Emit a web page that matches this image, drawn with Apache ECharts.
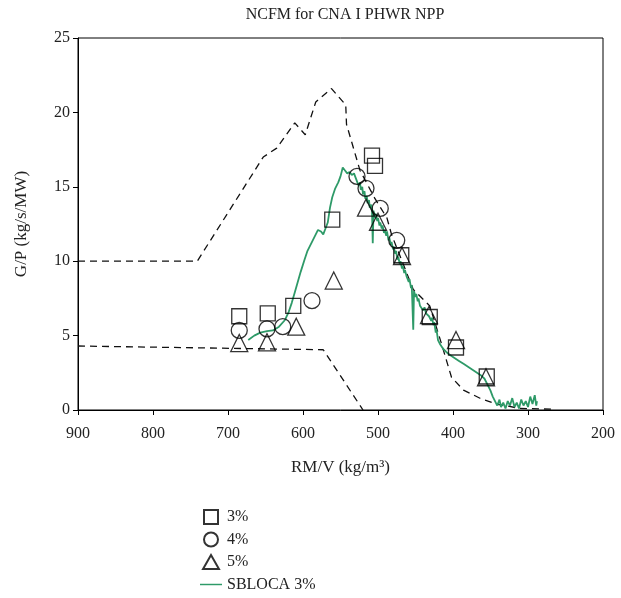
<!DOCTYPE html>
<html>
<head>
<meta charset="utf-8">
<script src="https://cdn.jsdelivr.net/npm/echarts@6/dist/echarts.min.js"></script>
<style>
  html, body { margin: 0; padding: 0; background: #fff; }
  #main { width: 621px; height: 598px; }
</style>
</head>
<body>
<div id="main"></div>
<script>
// experimental points (RM/V, G/P)
var pts3 = [[685, 6.3], [647, 6.5], [613, 7.0], [561, 12.8], [508, 17.1], [504, 16.4],
            [469, 10.4], [431, 6.25], [396, 4.2], [355, 2.25]];
var pts4 = [[685, 5.35], [648, 5.45], [627, 5.6], [588, 7.35], [528, 15.7], [516, 14.9],
            [497, 13.55], [475, 11.4]];
var pts5 = [[685, 4.5], [648, 4.55], [609, 5.6], [559, 8.7], [516, 13.6], [500, 12.65],
            [468, 10.35], [432, 6.38], [396, 4.7], [356, 2.2]];

// SBLOCA 3% simulation curve
var sbloca = [
  [673, 4.7], [665, 5.0], [657, 5.2], [648, 5.3], [640, 5.35], [632, 5.6], [624, 6.05],
  [619, 6.6], [615, 7.2], [611, 7.9], [607, 8.6], [603, 9.3], [598, 10.1], [594, 10.7],
  [589, 11.2], [584, 11.7], [580, 12.1], [576, 12.0], [573, 11.8], [570, 12.2], [567, 12.6],
  [564, 13.6], [561, 14.3], [557, 14.9], [553, 15.3], [550, 15.7], [547, 16.3], [544, 16.1],
  [541, 15.9], [538, 16.0], [535, 15.8], [532, 15.9], [529, 15.5], [527, 15.6], [526, 15.1],
  [524, 15.3], [523, 14.8], [521, 15.0], [520, 14.5], [518, 14.7], [517, 14.2], [515, 14.4],
  [514, 13.9], [512, 14.1], [511, 13.6], [509, 13.8], [508, 13.4], [507, 11.2], [506, 13.4],
  [504, 12.9], [503, 13.2], [501, 12.7], [500, 12.9], [498, 12.4], [497, 12.6], [495, 12.2],
  [494, 12.4], [492, 11.9], [491, 12.1], [489, 11.7], [488, 12.0], [486, 11.4], [485, 11.6],
  [483, 11.1], [482, 11.3], [480, 10.8], [479, 11.0], [477, 10.5], [476, 10.7], [474, 10.1],
  [473, 10.3], [471, 9.8], [470, 10.0], [468, 9.5], [467, 9.7], [465, 9.2], [464, 9.4],
  [462, 9.0], [461, 9.1], [459, 8.6], [458, 8.8], [456, 8.2], [455, 8.4], [453, 5.4],
  [452, 8.0], [450, 7.6], [449, 7.8], [447, 7.3], [446, 7.5], [444, 7.0], [442, 7.1],
  [440, 6.7], [438, 6.9], [436, 6.5], [434, 6.6], [432, 6.3], [431, 6.4], [429, 6.0],
  [428, 6.2], [426, 5.7], [425, 5.9], [423, 5.2], [422, 5.4], [420, 4.7], [418, 4.6],
  [417, 4.4], [415, 4.3], [413, 4.1], [409, 3.9], [404, 3.7], [398, 3.5], [392, 3.3],
  [386, 3.1], [380, 2.9], [374, 2.7], [368, 2.5], [362, 2.3], [358, 2.1], [354, 1.7],
  [350, 1.3], [347, 0.9], [344, 0.6], [341, 0.3], [338, 0.7], [336, 0.2], [333, 0.5],
  [330, 0.1], [327, 0.6], [324, 0.3], [321, 0.8], [318, 0.2], [315, 0.5], [312, 0.1],
  [309, 0.7], [306, 0.3], [303, 0.6], [300, 0.2], [297, 0.9], [294, 0.4], [291, 1.0],
  [289, 0.3], [288, 0.6]
];

// NCFM boundary lines (dashed)
var upperBound = [[900, 10.0], [741, 10.0], [653, 17.0], [635, 17.6], [611, 19.3], [597, 18.5],
  [583, 20.7], [562, 21.6], [543, 20.5], [542, 19.2], [524, 16.1], [504, 14.2], [488, 12.9],
  [482, 11.8], [453, 8.1], [431, 7.0], [415, 4.4], [402, 2.2], [386, 1.34], [364, 0.79],
  [342, 0.4], [311, 0.11], [267, 0.05]];
var lowerBound = [[900, 4.3], [573, 4.05], [520, 0]];

var xTicks = [900, 800, 700, 600, 500, 400, 300, 200];
var yTicks = [0, 5, 10, 15, 20, 25];

var serif = 'Liberation Serif';
var chart = echarts.init(document.getElementById('main'));

var markerStyle = { color: 'rgba(0,0,0,0)', borderColor: '#000', borderWidth: 1.3 };

chart.setOption({
  backgroundColor: '#fff',
  animation: false,
  title: {
    text: 'NCFM for CNA I PHWR NPP',
    left: 340, top: 2, textAlign: 'center',
    textStyle: { fontFamily: serif, fontSize: 16, fontWeight: 'normal', color: '#222' }
  },
  legend: {
    orient: 'vertical', left: 200, top: 509, itemGap: 6.5, padding: 0, height: 120,
    itemWidth: 22, itemHeight: 14,
    data: [
      { name: '3%', icon: 'path://M0,0 L10,0 L10,10 L0,10 Z' },
      { name: '4%', icon: 'circle' },
      { name: '5%', icon: 'path://M5,0 L10,8.8 L0,8.8 Z' },
      { name: 'SBLOCA 3%', icon: 'path://M0,0 L24,0 L24,1.6 L0,1.6 Z', itemStyle: { color: '#2e9a68', borderWidth: 0 } }
    ],
    textStyle: { fontFamily: serif, fontSize: 16, lineHeight: 14, color: '#222' }
  },
  grid: {
    left: 78, right: 18, top: 38, bottom: 188,
    show: true, borderColor: '#000', borderWidth: 1
  },
  xAxis: {
    type: 'value', inverse: true, min: xTicks[xTicks.length - 1], max: xTicks[0], interval: 100,
    name: 'RM/V (kg/m³)', nameLocation: 'middle', nameGap: 49,
    nameTextStyle: { fontFamily: serif, fontSize: 17, color: '#222' },
    axisLine: { lineStyle: { color: '#000', width: 1 } },
    axisTick: { show: true, length: 5, lineStyle: { color: '#000' } },
    axisLabel: { fontFamily: serif, fontSize: 16, color: '#222', margin: 16 },
    splitLine: { show: false }
  },
  yAxis: {
    type: 'value', min: yTicks[0], max: yTicks[yTicks.length - 1], interval: 5,
    name: 'G/P (kg/s/MW)', nameLocation: 'middle', nameGap: 48,
    nameTextStyle: { fontFamily: serif, fontSize: 17, color: '#222' },
    axisLine: { lineStyle: { color: '#000', width: 1 } },
    axisTick: { show: true, length: 5, lineStyle: { color: '#000' } },
    axisLabel: { fontFamily: serif, fontSize: 16, color: '#222', margin: 8 },
    splitLine: { show: false }
  },
  series: [
    {
      name: 'upper', type: 'line', data: upperBound, symbol: 'none', silent: true,
      lineStyle: { color: '#111', width: 1.3, type: [7, 5] }
    },
    {
      name: 'lower', type: 'line', data: lowerBound, symbol: 'none', silent: true,
      lineStyle: { color: '#111', width: 1.3, type: [7, 5] }
    },
    {
      name: 'SBLOCA 3%', type: 'line', data: sbloca, symbol: 'none',
      itemStyle: { color: '#2e9a68' },
      lineStyle: { color: '#2e9a68', width: 1.8 }
    },
    { name: '3%', type: 'scatter', symbol: 'rect', symbolSize: 15, data: pts3, itemStyle: markerStyle, z: 3 },
    { name: '4%', type: 'scatter', symbol: 'circle', symbolSize: 16, data: pts4, itemStyle: markerStyle, z: 3 },
    { name: '5%', type: 'scatter', symbol: 'triangle', symbolSize: 17, data: pts5, itemStyle: markerStyle, z: 3 }
  ]
});
</script>
</body>
</html>
